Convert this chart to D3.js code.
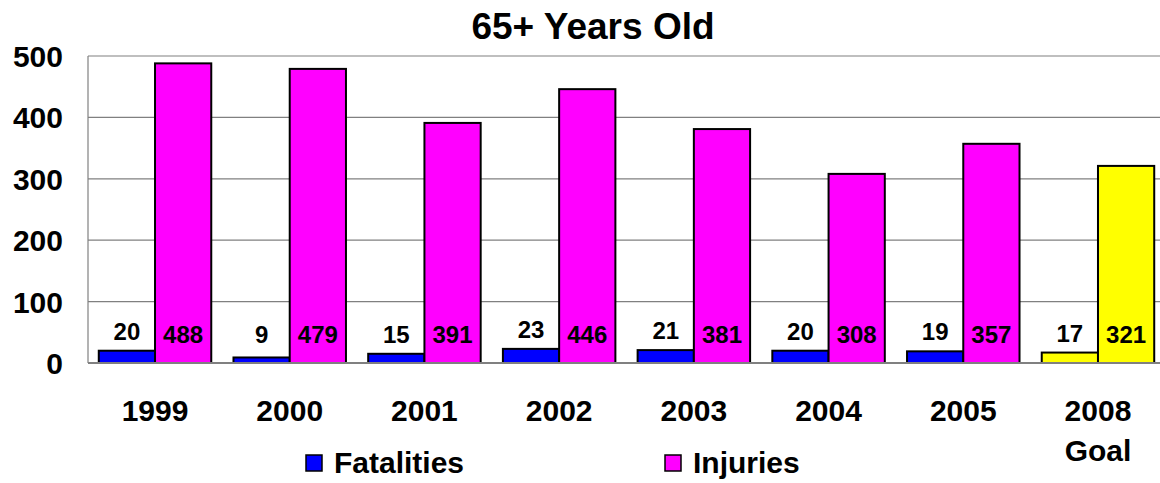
<!DOCTYPE html>
<html>
<head>
<meta charset="utf-8">
<script src="https://cdn.jsdelivr.net/npm/d3@7/dist/d3.min.js"></script>
<style>
body { margin: 0; background: #fff; }
text { font-family: Arial, "Liberation Sans", sans-serif; font-weight: bold; fill: #000; }
</style>
</head>
<body>
<svg id="chart" width="1160" height="483"></svg>
<script>
var years = ["1999", "2000", "2001", "2002", "2003", "2004", "2005", "2008 Goal"];
var fatalities = [20, 9, 15, 23, 21, 20, 19, 17];
var injuries = [488, 479, 391, 446, 381, 308, 357, 321];
var series = ["Fatalities", "Injuries"];
var yTicks = [0, 100, 200, 300, 400, 500];

var colors = { Fatalities: "#0000ff", Injuries: "#ff00ff", goal: "#ffff00" };

var margin = {top: 56, left: 88, bottom: 120},
    width = 1165 - margin.left,
    height = 363 - margin.top;

var svg = d3.select("#chart");

var x0 = d3.scaleBand()
    .domain(years)
    .range([margin.left, margin.left + width])
    .paddingInner(0.165)
    .paddingOuter(0.08);

var x1 = d3.scaleBand()
    .domain(series)
    .range([0, x0.bandwidth()]);

var y = d3.scaleLinear()
    .domain([0, 500])
    .range([margin.top + height, margin.top]);

// grid
svg.append("g")
    .selectAll("line")
    .data(yTicks.filter(function(d) { return d > 0; }))
    .enter().append("line")
    .attr("x1", margin.left)
    .attr("x2", 1160)
    .attr("y1", function(d) { return y(d); })
    .attr("y2", function(d) { return y(d); })
    .attr("stroke", "#808080")
    .attr("stroke-width", 1.2);

// left axis line
svg.append("line")
    .attr("x1", margin.left).attr("x2", margin.left)
    .attr("y1", y(500)).attr("y2", y(0))
    .attr("stroke", "#808080")
    .attr("stroke-width", 1.2);

// y labels
svg.append("g")
    .selectAll("text")
    .data(yTicks)
    .enter().append("text")
    .attr("x", 63)
    .attr("y", function(d) { return y(d) + 11; })
    .attr("text-anchor", "end")
    .style("font-size", "30px")
    .text(function(d) { return d; });

var rows = years.map(function(yr, i) {
    return { year: yr, Fatalities: fatalities[i], Injuries: injuries[i], goal: yr.indexOf("Goal") >= 0 };
});

var groups = svg.append("g")
    .selectAll("g")
    .data(rows)
    .enter().append("g")
    .attr("transform", function(d) { return "translate(" + x0(d.year) + ",0)"; });

groups.selectAll("rect")
    .data(function(d) { return series.map(function(s) { return {key: s, value: d[s], goal: d.goal}; }); })
    .enter().append("rect")
    .attr("x", function(d) { return x1(d.key); })
    .attr("width", x1.bandwidth())
    .attr("y", function(d) { return y(d.value); })
    .attr("height", function(d) { return y(0) - y(d.value); })
    .attr("fill", function(d) { return d.goal ? colors.goal : colors[d.key]; })
    .attr("stroke", "#000")
    .attr("stroke-width", 2);

// value labels
groups.selectAll("text.val")
    .data(function(d) { return series.map(function(s) { return {key: s, value: d[s]}; }); })
    .enter().append("text")
    .attr("class", "val")
    .attr("x", function(d) { return x1(d.key) + x1.bandwidth() / 2; })
    .attr("y", function(d) {
        if (d.key == "Injuries") return 343;
        return Math.min(343, y(d.value) - 11);
    })
    .attr("text-anchor", "middle")
    .style("font-size", "24px")
    .text(function(d) { return d.value; });

// zero axis line
svg.append("line")
    .attr("x1", margin.left).attr("x2", 1160)
    .attr("y1", y(0)).attr("y2", y(0))
    .attr("stroke", "#808080")
    .attr("stroke-width", 2);

// x labels
var xl = svg.append("g")
    .selectAll("text")
    .data(years)
    .enter().append("text")
    .attr("text-anchor", "middle")
    .attr("x", function(d) { return x0(d) + x0.bandwidth() / 2; })
    .attr("y", 421)
    .style("font-size", "30px");

xl.each(function(d) {
    var parts = d.split(" ");
    var t = d3.select(this);
    parts.forEach(function(p, i) {
        t.append("tspan")
            .attr("x", x0(d) + x0.bandwidth() / 2)
            .attr("dy", i == 0 ? 0 : 40)
            .text(p);
    });
});

// title
svg.append("text")
    .attr("x", 593)
    .attr("y", 39)
    .attr("text-anchor", "middle")
    .style("font-size", "37px")
    .text("65+ Years Old");

// legend
var legendX = [306, 665];
var legend = svg.append("g")
    .selectAll("g")
    .data(series)
    .enter().append("g")
    .attr("transform", function(d, i) { return "translate(" + legendX[i] + ",455)"; });

legend.append("rect")
    .attr("width", 16)
    .attr("height", 16)
    .attr("fill", function(d) { return colors[d]; })
    .attr("stroke", "#000")
    .attr("stroke-width", 1.5);

legend.append("text")
    .attr("x", 28)
    .attr("y", 17.5)
    .style("font-size", "30px")
    .text(function(d) { return d; });
</script>
</body>
</html>
